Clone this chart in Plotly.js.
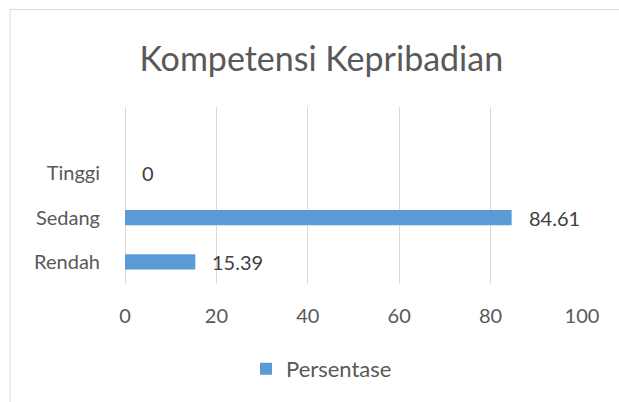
<!DOCTYPE html>
<html>
<head>
<meta charset="utf-8">
<script src="https://cdn.plot.ly/plotly-3.0.1.min.js"></script>
<style>html,body{margin:0;padding:0;background:#fff;}#chart{width:619px;height:402px;}</style>
</head>
<body>
<div id="chart"></div>
<script>
var categories = ['Rendah', 'Sedang', 'Tinggi'];
var persentase = [15.39, 84.61, 0];
var seriesName = 'Persentase';
var xTicks = [0, 20, 40, 60, 80, 100];
var chartTitle = 'Kompetensi Kepribadian';

var FONT = 'Lato, "Open Sans", sans-serif';
var trace = {
  type: 'bar',
  orientation: 'h',
  y: categories,
  x: persentase,
  name: seriesName,
  width: 0.34,
  marker: {color: '#5b9bd5'},
  hoverinfo: 'none'
};

var annotations = categories.map(function (c, i) {
  return {
    x: persentase[i], y: c, xref: 'x', yref: 'y',
    text: String(persentase[i]), showarrow: false,
    xanchor: 'left', yanchor: 'middle', xshift: 15,
    font: {family: FONT, size: 20, color: '#404040'}
  };
});

var layout = {
  width: 619, height: 402,
  margin: {l: 125, r: 37, t: 107, b: 118},
  paper_bgcolor: '#ffffff', plot_bgcolor: '#ffffff',
  showlegend: true,
  title: {text: chartTitle, x: 0.519, xanchor: 'center', y: 0.852, yanchor: 'middle',
          font: {family: FONT, size: 34, color: '#595959'}},
  xaxis: {
    range: [0, 100], tickvals: xTicks, showgrid: true, gridcolor: '#d9d9d9', gridwidth: 1,
    zeroline: true, zerolinecolor: '#d9d9d9', zerolinewidth: 1, showline: false,
    ticks: 'outside', ticklen: 14, tickcolor: 'rgba(0,0,0,0)',
    tickfont: {family: FONT, size: 20, color: '#595959'}, fixedrange: true
  },
  yaxis: {
    type: 'category', categoryorder: 'array', categoryarray: categories,
    range: [-0.5, 3.5], showgrid: false, zeroline: false, showline: false,
    ticks: 'outside', ticklen: 20, tickcolor: 'rgba(0,0,0,0)',
    tickfont: {family: FONT, size: 20, color: '#595959'}, fixedrange: true
  },
  legend: {orientation: 'h', x: 0.43, xanchor: 'center', y: -0.48, yanchor: 'middle',
           itemwidth: 30,
           font: {family: FONT, size: 22, color: '#595959'}},
  annotations: annotations,
  shapes: [
    {type: 'line', xref: 'paper', yref: 'paper', x0: -0.2514, x1: 1.2, y0: 1.551, y1: 1.551, line: {color: '#d9d9d9', width: 1}},
    {type: 'line', xref: 'paper', yref: 'paper', x0: -0.2514, x1: -0.2514, y0: 1.551, y1: -0.8, line: {color: '#d9d9d9', width: 1}}
  ]
};

Plotly.newPlot('chart', [trace], layout, {displayModeBar: false, staticPlot: true});
</script>
</body>
</html>
